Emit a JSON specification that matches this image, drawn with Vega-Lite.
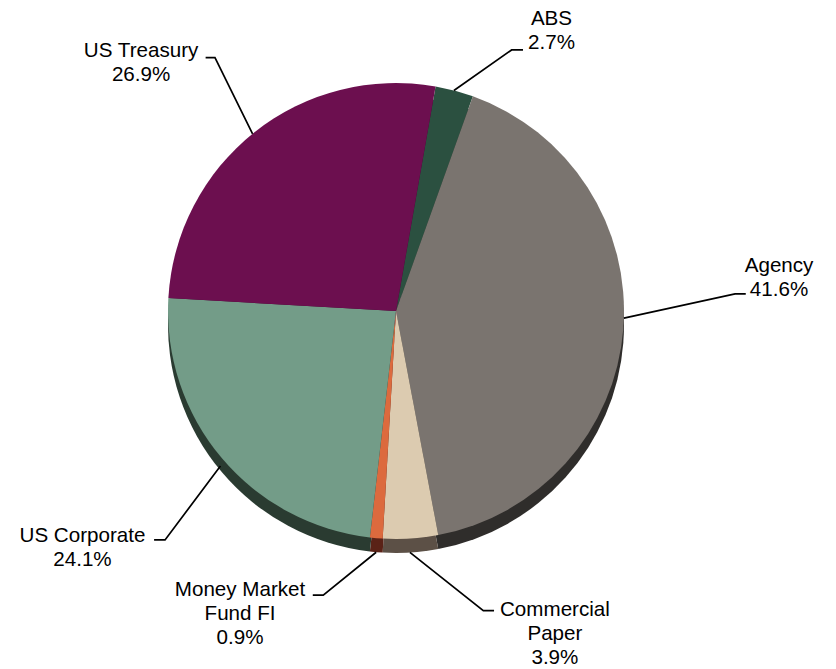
{
  "$schema": "https://vega.github.io/schema/vega-lite/v6.json",
  "width": 836,
  "height": 669,
  "autosize": {"type": "fit", "contains": "padding"},
  "padding": 0,
  "background": "white",
  "config": {"view": {"stroke": null}},
  "datasets": {
    "slices": [
      {"category": "ABS", "value": 2.7, "label": "ABS\n2.7%", "lx": 0.682, "ly": 1.254},
      {"category": "Agency", "value": 41.6, "label": "Agency\n41.6%", "lx": 1.68, "ly": 0.173},
      {"category": "Commercial Paper", "value": 3.9, "label": "Commercial\nPaper\n3.9%", "lx": 0.697, "ly": -1.338},
      {"category": "Money Market Fund FI", "value": 0.9, "label": "Money Market\nFund FI\n0.9%", "lx": -0.684, "ly": -1.252},
      {"category": "US Corporate", "value": 24.1, "label": "US Corporate\n24.1%", "lx": -1.375, "ly": -1.011},
      {"category": "US Treasury", "value": 26.9, "label": "US Treasury\n26.9%", "lx": -1.118, "ly": 1.114}
    ],
    "leaders": [
      {"category": "ABS", "seq": 1, "x": 0.254, "y": 0.967},
      {"category": "ABS", "seq": 2, "x": 0.507, "y": 1.145},
      {"category": "ABS", "seq": 3, "x": 0.557, "y": 1.145},
      {"category": "US Treasury", "seq": 1, "x": -0.629, "y": 0.777},
      {"category": "US Treasury", "seq": 2, "x": -0.794, "y": 1.111},
      {"category": "US Treasury", "seq": 3, "x": -0.835, "y": 1.111},
      {"category": "Agency", "seq": 1, "x": 0.9995, "y": -0.031},
      {"category": "Agency", "seq": 2, "x": 1.487, "y": 0.075},
      {"category": "Agency", "seq": 3, "x": 1.534, "y": 0.075},
      {"category": "Money Market Fund FI", "seq": 1, "x": -0.087, "y": -1.058},
      {"category": "Money Market Fund FI", "seq": 2, "x": -0.319, "y": -1.246},
      {"category": "Money Market Fund FI", "seq": 3, "x": -0.365, "y": -1.246},
      {"category": "Commercial Paper", "seq": 1, "x": 0.061, "y": -1.059},
      {"category": "Commercial Paper", "seq": 2, "x": 0.383, "y": -1.314},
      {"category": "Commercial Paper", "seq": 3, "x": 0.43, "y": -1.314},
      {"category": "US Corporate", "seq": 1, "x": -0.77, "y": -0.68},
      {"category": "US Corporate", "seq": 2, "x": -1.013, "y": -1.004},
      {"category": "US Corporate", "seq": 3, "x": -1.061, "y": -1.004}
    ]
  },
  "layer": [
    {
      "data": {"name": "slices"},
      "mark": {"type": "arc", "outerRadius": 228, "yOffset": 14},
      "encoding": {
        "theta": {"field": "value", "type": "quantitative", "stack": true, "scale": {"range": [0.1745, 6.4577]}},
        "order": {"field": "category", "type": "ordinal"},
        "x": {"datum": 0, "type": "quantitative", "scale": {"domain": [-1.7368, 1.9298], "nice": false, "zero": false}, "axis": null},
        "y": {"datum": 0, "type": "quantitative", "scale": {"domain": [-1.5702, 1.364], "nice": false, "zero": false}, "axis": null},
        "color": {
          "field": "category", "type": "nominal",
          "scale": {
            "domain": ["ABS", "Agency", "Commercial Paper", "Money Market Fund FI", "US Corporate", "US Treasury"],
            "range": ["#1a3026", "#2f2d2b", "#5c5046", "#5a2217", "#2a3b31", "#3d0a2c"]
          },
          "legend": null
        }
      }
    },
    {
      "data": {"name": "slices"},
      "mark": {"type": "arc", "outerRadius": 228},
      "encoding": {
        "theta": {"field": "value", "type": "quantitative", "stack": true, "scale": {"range": [0.1745, 6.4577]}},
        "order": {"field": "category", "type": "ordinal"},
        "x": {"datum": 0, "type": "quantitative", "scale": {"domain": [-1.7368, 1.9298], "nice": false, "zero": false}, "axis": null},
        "y": {"datum": 0, "type": "quantitative", "scale": {"domain": [-1.5702, 1.364], "nice": false, "zero": false}, "axis": null},
        "color": {
          "field": "category", "type": "nominal",
          "scale": {
            "domain": ["ABS", "Agency", "Commercial Paper", "Money Market Fund FI", "US Corporate", "US Treasury"],
            "range": ["#2b5040", "#7a746f", "#dccbb0", "#dc6a3e", "#739c88", "#6c0f4f"]
          },
          "legend": null
        }
      }
    },
    {
      "data": {"name": "leaders"},
      "mark": {"type": "line", "color": "#000000", "strokeWidth": 1.7},
      "encoding": {
        "x": {"field": "x", "type": "quantitative", "scale": {"domain": [-1.7368, 1.9298], "nice": false, "zero": false}, "axis": null},
        "y": {"field": "y", "type": "quantitative", "scale": {"domain": [-1.5702, 1.364], "nice": false, "zero": false}, "axis": null},
        "detail": {"field": "category", "type": "nominal"},
        "order": {"field": "seq", "type": "quantitative"}
      }
    },
    {
      "data": {"name": "slices"},
      "mark": {"type": "text", "lineBreak": "\n", "font": "Liberation Sans", "fontSize": 20.6, "lineHeight": 24, "align": "center", "baseline": "alphabetic", "color": "#000000"},
      "encoding": {
        "x": {"field": "lx", "type": "quantitative", "scale": {"domain": [-1.7368, 1.9298], "nice": false, "zero": false}, "axis": null},
        "y": {"field": "ly", "type": "quantitative", "scale": {"domain": [-1.5702, 1.364], "nice": false, "zero": false}, "axis": null},
        "text": {"field": "label", "type": "nominal"}
      }
    }
  ],
  "resolve": {"scale": {"color": "independent"}}
}
